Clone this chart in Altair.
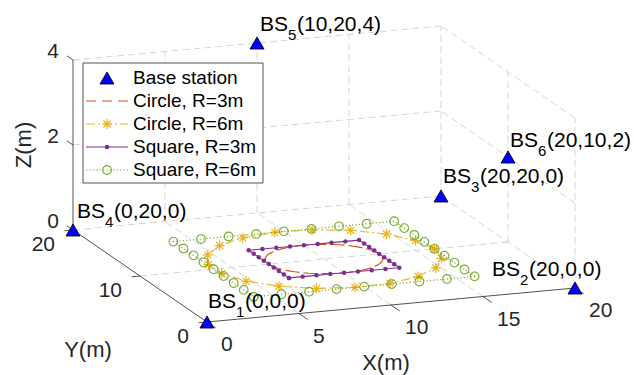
import altair as alt
import numpy as np
import pandas as pd

W, H = 634, 375
FONT = "Liberation Sans"
INK = "#262626"

# ---------------- data ----------------
bs_id = [1, 2, 3, 4, 5, 6]
bs_x = [0, 20, 20, 0, 10, 20]
bs_y = [0, 0, 20, 20, 20, 10]
bs_z = [0, 0, 0, 0, 4, 2]

traj_center = [10, 10]
traj_z = 0
circle_small_r = 3
circle_large_r = 6
square_small_half = 3
square_large_half = 6
circle_large_samples = 20      # closed ring of marker samples
square_steps_per_side = 8

x_ticks = [0, 5, 10, 15, 20]
y_ticks = [0, 10, 20]
z_ticks = [0, 2, 4]

legend_labels = ["Base station", "Circle, R=3m", "Circle, R=6m",
                 "Square, R=3m", "Square, R=6m"]

# ---------------- 3-D -> screen projection ----------------
ORIGIN = (207.0, 322.0)
EX = (18.4, -1.7)     # screen step per metre along X
EY = (-6.7, -4.6)     # along Y
EZ = (0.0, -42.5)     # along Z


def proj(x, y, z):
    x, y, z = np.asarray(x, float), np.asarray(y, float), np.asarray(z, float)
    sx = ORIGIN[0] + EX[0] * x + EY[0] * y + EZ[0] * z
    sy = ORIGIN[1] + EX[1] * x + EY[1] * y + EZ[1] * z
    return sx, sy


def seg_frame(pairs):
    a = np.array([p[0] for p in pairs], float)
    b = np.array([p[1] for p in pairs], float)
    sx, sy = proj(a[:, 0], a[:, 1], a[:, 2])
    sx2, sy2 = proj(b[:, 0], b[:, 1], b[:, 2])
    return pd.DataFrame({"sx": sx, "sy": sy, "sx2": sx2, "sy2": sy2})


def pts_frame(x, y, z):
    sx, sy = proj(x, y, z)
    return pd.DataFrame({"sx": sx, "sy": sy, "i": np.arange(len(sx))})


xs = alt.Scale(domain=[0, W], nice=False, zero=False)
ys = alt.Scale(domain=[0, H], nice=False, zero=False, reverse=True)


def X(f="sx"):
    return alt.X(f"{f}:Q", scale=xs, axis=None)


def Y(f="sy"):
    return alt.Y(f"{f}:Q", scale=ys, axis=None)


def rules(df, **kw):
    return alt.Chart(df).mark_rule(**kw).encode(
        x=X("sx"), y=Y("sy"), x2="sx2:Q", y2="sy2:Q")


# ---------------- box grid ----------------
xmax, ymax, zmax = x_ticks[-1], y_ticks[-1], z_ticks[-1]
grid_pairs = []
for xv in x_ticks[1:]:
    grid_pairs.append(((xv, ymax, 0), (xv, ymax, zmax)))   # back wall
    grid_pairs.append(((xv, 0, 0), (xv, ymax, 0)))          # floor
for zv in z_ticks[1:]:
    grid_pairs.append(((0, ymax, zv), (xmax, ymax, zv)))     # back wall
    grid_pairs.append(((xmax, 0, zv), (xmax, ymax, zv)))     # side wall
for yv in y_ticks[:-1]:
    grid_pairs.append(((xmax, yv, 0), (xmax, yv, zmax)))     # side wall
for yv in y_ticks[1:]:
    grid_pairs.append(((0, yv, 0), (xmax, yv, 0)))           # floor
grid = rules(seg_frame(grid_pairs), color="#d6d6d6", strokeWidth=1,
             strokeDash=[7, 4])

# ---------------- axes and ticks ----------------
axis_pairs = [((0, 0, 0), (xmax, 0, 0)),
              ((0, 0, 0), (0, ymax, 0)),
              ((0, ymax, 0), (0, ymax, zmax))]
axis_pairs += [((v, 0, 0), (v, -1.3, 0)) for v in x_ticks]
axis_pairs += [((0, v, 0), (-0.45, v, 0)) for v in y_ticks]
axis_pairs += [((0, ymax, v), (0, ymax + 0.9, v)) for v in z_ticks]
axes = rules(seg_frame(axis_pairs), color=INK, strokeWidth=0.8)


def tick_labels(x, y, z, vals, **kw):
    sx, sy = proj(x, y, z)
    df = pd.DataFrame({"sx": sx, "sy": sy, "t": [str(v) for v in vals]})
    return alt.Chart(df).mark_text(font=FONT, fontSize=21, color=INK,
                                   baseline="middle", **kw).encode(
        x=X(), y=Y(), text="t:N")


n = len
xlab = tick_labels(x_ticks, [0] * n(x_ticks), [0] * n(x_ticks), x_ticks,
                   align="left", dx=14, dy=23)
ylab = tick_labels([0] * n(y_ticks), y_ticks, [0] * n(y_ticks), y_ticks,
                   align="right", dx=-18, dy=15)
zlab = tick_labels([0] * n(z_ticks), [ymax] * n(z_ticks), z_ticks, z_ticks,
                   align="right", dx=-14, dy=-8)

titles = pd.DataFrame({"t": ["X(m)", "Y(m)", "Z(m)"],
                       "sx": [386, 88, 24], "sy": [363, 350, 145],
                       "a": [0, 0, 270]})
axis_titles = alt.Chart(titles).mark_text(
    font=FONT, fontSize=22, color=INK, align="center", baseline="middle"
).encode(x=X(), y=Y(), text="t:N", angle=alt.Angle("a:Q", scale=None))

# ---------------- trajectories ----------------
cx, cy = traj_center
th_s = np.linspace(0, 2 * np.pi, 73)
circle_s = pts_frame(cx + circle_small_r * np.cos(th_s),
                     cy + circle_small_r * np.sin(th_s), traj_z)
th_l = np.linspace(0, 2 * np.pi, circle_large_samples)
circle_l = pts_frame(cx + circle_large_r * np.cos(th_l),
                     cy + circle_large_r * np.sin(th_l), traj_z)


def square_pts(h, n_side):
    corners = [(cx - h, cy - h), (cx + h, cy - h), (cx + h, cy + h),
               (cx - h, cy + h), (cx - h, cy - h)]
    px, py = [], []
    for a, b in zip(corners[:-1], corners[1:]):
        for k in range(n_side):
            t = k / n_side
            px.append(a[0] + (b[0] - a[0]) * t)
            py.append(a[1] + (b[1] - a[1]) * t)
    px.append(corners[-1][0])
    py.append(corners[-1][1])
    return pts_frame(px, py, traj_z)


square_s = square_pts(square_small_half, square_steps_per_side)
square_l = square_pts(square_large_half, square_steps_per_side)

C_RED, C_YEL, C_PUR, C_GRN = "#D95319", "#EDB120", "#7E2F8E", "#77AC30"
STAR = "M-1,0L1,0M0,-1L0,1M-0.7,-0.7L0.7,0.7M-0.7,0.7L0.7,-0.7"
DASH_RED, DASH_YEL, DASH_GRN = [14, 4], [9, 3, 2, 3], [1.2, 2.2]


def path_line(df, color, dash=None, width=1.1):
    kw = dict(color=color, strokeWidth=width)
    if dash:
        kw["strokeDash"] = dash
    return alt.Chart(df).mark_line(**kw).encode(
        x=X(), y=Y(), order="i:Q")


def markers(df, **kw):
    return alt.Chart(df).mark_point(**kw).encode(x=X(), y=Y())


tri_kw = dict(shape="triangle-up", filled=True, fill="#0000FF",
              stroke="black", strokeWidth=0.8, size=196, opacity=1)
star_kw = dict(shape=STAR, filled=False, stroke=C_YEL, strokeWidth=1.2,
               size=100, opacity=1)
dot_kw = dict(shape="circle", filled=True, fill=C_PUR, stroke=C_PUR,
              strokeWidth=0, size=20, opacity=1)
ring_kw = dict(shape="circle", filled=False, stroke=C_GRN, strokeWidth=1.1,
               size=76, opacity=1)

traj = [
    path_line(circle_s, C_RED, DASH_RED, 1.2),
    path_line(circle_l, C_YEL, DASH_YEL),
    markers(circle_l, **star_kw),
    path_line(square_s, C_PUR),
    markers(square_s, **dot_kw),
    path_line(square_l, C_GRN, DASH_GRN, 1.2),
    markers(square_l, **ring_kw),
]

# ---------------- base stations ----------------
bsx, bsy = proj(bs_x, bs_y, bs_z)
bs = pd.DataFrame({"sx": bsx, "sy": bsy, "id": [str(i) for i in bs_id],
                   "coord": [f"({a},{b},{c})" for a, b, c in zip(bs_x, bs_y, bs_z)]})
label_dx = [1, -83, 2, 4, 3, 2]
label_dy = [-14, -12, -13, -12, -12, -10]
bs["lx"] = bs["sx"] + label_dx
bs["ly"] = bs["sy"] + label_dy
bs["lx_sub"] = bs["lx"] + 28
bs["ly_sub"] = bs["ly"] + 9
bs["lx_par"] = bs["lx"] + 37
bs["bs"] = "BS"

stations = markers(bs, **tri_kw)
txt = dict(font=FONT, color="black", align="left", baseline="alphabetic")
bs_text = [
    alt.Chart(bs).mark_text(fontSize=21, **txt).encode(
        x=X("lx"), y=Y("ly"), text="bs:N"),
    alt.Chart(bs).mark_text(fontSize=15, **txt).encode(
        x=X("lx_sub"), y=Y("ly_sub"), text="id:N"),
    alt.Chart(bs).mark_text(fontSize=21, **txt).encode(
        x=X("lx_par"), y=Y("ly"), text="coord:N"),
]

# ---------------- legend ----------------
LG_L, LG_R, LG_T, LG_B = 83, 263, 63, 183
ROW0, ROWSTEP = 78, 23
SYM_L, SYM_R, SYM_C, TXT_X = 86, 128, 107, 133
lg = pd.DataFrame({"label": legend_labels})
lg["sy"] = ROW0 + ROWSTEP * np.arange(len(lg))
lg["sx"] = TXT_X
lg["l"] = SYM_L
lg["r"] = SYM_R
lg["c"] = SYM_C

box = alt.Chart(pd.DataFrame({"a": [LG_L], "b": [LG_R], "t": [LG_T], "u": [LG_B]})).mark_rect(
    fill="white", stroke=INK, strokeWidth=0.8).encode(
    x=X("a"), x2="b:Q", y=Y("t"), y2="u:Q")


def lg_row(k):
    return lg.iloc[[k]]


def lg_line(k, color, dash=None, width=1.1):
    kw = dict(color=color, strokeWidth=width)
    if dash:
        kw["strokeDash"] = dash
    return alt.Chart(lg_row(k)).mark_rule(**kw).encode(
        x=X("l"), x2="r:Q", y=Y("sy"))


def lg_mark(k, **kw):
    return alt.Chart(lg_row(k)).mark_point(**kw).encode(x=X("c"), y=Y("sy"))


legend = [
    box,
    lg_mark(0, **tri_kw),
    lg_line(1, C_RED, [10, 6], 1.2),
    lg_line(2, C_YEL, DASH_YEL),
    lg_mark(2, **star_kw),
    lg_line(3, C_PUR),
    lg_mark(3, **dot_kw),
    lg_line(4, C_GRN, DASH_GRN, 1.2),
    lg_mark(4, **ring_kw),
    alt.Chart(lg).mark_text(font=FONT, fontSize=19, color="black",
                            align="left", baseline="middle").encode(
        x=X(), y=Y(), text="label:N"),
]

chart = alt.layer(
    grid, axes, xlab, ylab, zlab, axis_titles, stations, *traj, *bs_text, *legend
).properties(
    width=W, height=H, padding=0,
    autosize=alt.AutoSizeParams(type="none"),
    background="white",
).configure_view(stroke=None)

chart.save("out.html", embed_options={"renderer": "svg", "actions": False})
